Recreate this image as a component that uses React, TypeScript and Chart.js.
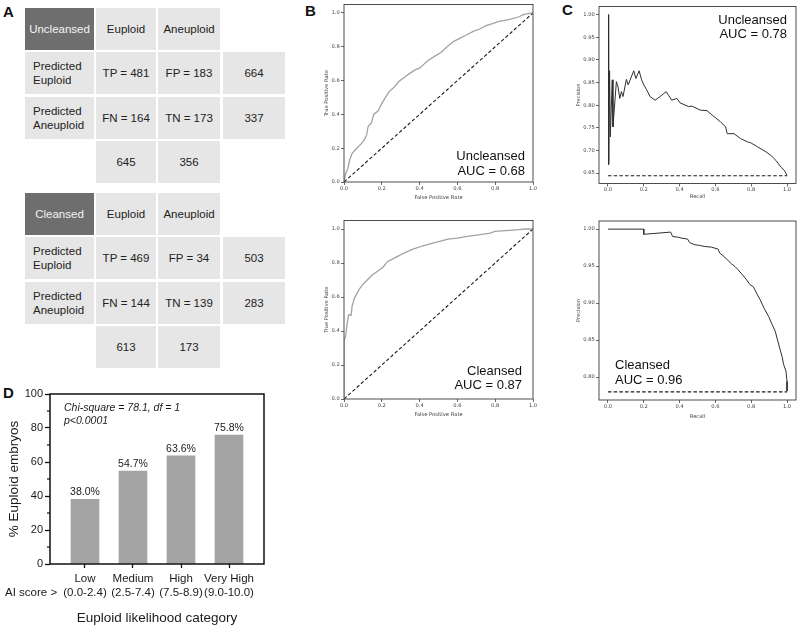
import React, { useEffect, useRef } from 'react';
import { Chart, registerables } from 'chart.js';

Chart.register(...registerables);

const SANS = "'Liberation Sans', Arial, sans-serif";
const MPL = "'DejaVu Sans', sans-serif";

// ---------- Panel A: confusion matrices ----------
const matrixColHeaders = ['Euploid', 'Aneuploid'];
const matrixRowHeaders = [['Predicted', 'Euploid'], ['Predicted', 'Aneuploid']];
const matrixCellCodes = [['TP', 'FP'], ['FN', 'TN']];
const uncleansedCounts = [[481, 183], [164, 173]];
const uncleansedRowTotals = [664, 337];
const uncleansedColTotals = [645, 356];
const cleansedCounts = [[469, 34], [144, 139]];
const cleansedRowTotals = [503, 283];
const cleansedColTotals = [613, 173];

// ---------- Panel B: ROC curves ----------
const rocUncleansedFpr = [0, 0.009, 0.02, 0.03, 0.043, 0.068, 0.094, 0.108, 0.12, 0.128, 0.145, 0.157, 0.18, 0.2, 0.222, 0.239, 0.265, 0.29, 0.325, 0.35, 0.376, 0.4, 0.419, 0.444, 0.479, 0.513, 0.547, 0.581, 0.615, 0.65, 0.684, 0.718, 0.752, 0.786, 0.82, 0.872, 0.923, 0.949, 0.974, 1.0];
const rocUncleansedTpr = [0, 0.05, 0.08, 0.13, 0.17, 0.2, 0.23, 0.25, 0.28, 0.33, 0.35, 0.4, 0.42, 0.465, 0.505, 0.535, 0.56, 0.594, 0.624, 0.644, 0.663, 0.673, 0.693, 0.719, 0.743, 0.766, 0.802, 0.832, 0.851, 0.871, 0.891, 0.905, 0.925, 0.937, 0.95, 0.96, 0.976, 0.99, 0.996, 1.0];
const rocCleansedFpr = [0, 0, 0.007, 0.012, 0.017, 0.024, 0.038, 0.043, 0.055, 0.068, 0.08, 0.097, 0.123, 0.149, 0.174, 0.209, 0.229, 0.251, 0.286, 0.32, 0.362, 0.414, 0.465, 0.516, 0.55, 0.6, 0.653, 0.721, 0.773, 0.798, 0.858, 0.927, 0.96, 1.0];
const rocCleansedTpr = [0, 0.35, 0.36, 0.4, 0.445, 0.494, 0.494, 0.547, 0.592, 0.62, 0.645, 0.67, 0.7, 0.729, 0.749, 0.778, 0.808, 0.82, 0.84, 0.86, 0.88, 0.9, 0.916, 0.93, 0.94, 0.946, 0.957, 0.967, 0.976, 0.986, 0.99, 0.996, 1.0, 1.0];
const rocChanceX = [0, 1];
const rocChanceY = [0, 1];
const rateTicks = [0, 0.2, 0.4, 0.6, 0.8, 1.0];

// ---------- Panel C: precision-recall curves ----------
const prUncleansedRecall = [0.003, 0.004, 0.009, 0.013, 0.024, 0.028, 0.047, 0.056, 0.066, 0.075, 0.084, 0.103, 0.113, 0.144, 0.156, 0.174, 0.188, 0.2, 0.216, 0.235, 0.263, 0.291, 0.325, 0.338, 0.356, 0.385, 0.403, 0.45, 0.469, 0.516, 0.553, 0.582, 0.629, 0.657, 0.666, 0.704, 0.741, 0.779, 0.797, 0.835, 0.882, 0.91, 0.938, 0.966, 0.985, 1.0];
const prUncleansedPrecision = [1.0, 0.669, 0.876, 0.73, 0.856, 0.752, 0.852, 0.841, 0.815, 0.83, 0.819, 0.857, 0.845, 0.876, 0.859, 0.876, 0.856, 0.845, 0.834, 0.819, 0.811, 0.819, 0.83, 0.822, 0.811, 0.815, 0.805, 0.797, 0.798, 0.789, 0.788, 0.778, 0.763, 0.752, 0.737, 0.737, 0.726, 0.719, 0.717, 0.708, 0.697, 0.689, 0.678, 0.663, 0.656, 0.645];
const prCleansedRecall = [0, 0.2, 0.2, 0.35, 0.361, 0.395, 0.408, 0.445, 0.455, 0.483, 0.511, 0.539, 0.577, 0.615, 0.624, 0.643, 0.665, 0.69, 0.709, 0.727, 0.752, 0.774, 0.793, 0.812, 0.835, 0.85, 0.872, 0.897, 0.915, 0.934, 0.947, 0.959, 0.972, 0.981, 0.994, 1.0, 1.0];
const prCleansedPrecision = [1.0, 1.0, 0.993, 0.996, 0.99, 0.989, 0.988, 0.9865, 0.982, 0.979, 0.978, 0.9766, 0.9757, 0.973, 0.9676, 0.964, 0.959, 0.953, 0.9495, 0.945, 0.938, 0.9315, 0.925, 0.922, 0.911, 0.9045, 0.893, 0.882, 0.872, 0.862, 0.85, 0.839, 0.828, 0.817, 0.808, 0.794, 0.781];
const prBaselineX = [0, 1];
const prUncleansedBaseline = [0.644, 0.644];
const prCleansedBaseline = [0.78, 0.78];
const recallTicks = [0, 0.2, 0.4, 0.6, 0.8, 1.0];
const prUncleansedYTicks = [0.65, 0.7, 0.75, 0.8, 0.85, 0.9, 0.95, 1.0];
const prCleansedYTicks = [0.8, 0.85, 0.9, 0.95, 1.0];

// ---------- Panel D: bar chart ----------
const categoryNames = ['Low', 'Medium', 'High', 'Very High'];
const categoryRanges = ['(0.0-2.4)', '(2.5-7.4)', '(7.5-8.9)', '(9.0-10.0)'];
const euploidPercent = [38.0, 54.7, 63.6, 75.8];
const percentTicks = [0, 20, 40, 60, 80, 100];
const percentMinorTicks = [10, 30, 50, 70, 90];
const statsLines = ['Chi-square = 78.1, df = 1', 'p<0.0001'];
const aiScoreLabel = 'AI score >';

type Geo = { left: number; top: number; width: number; height: number; yW: number; xH: number; padTop: number; padRight: number };

const zip = (xs: number[], ys: number[]) => xs.map((x, i) => ({ x, y: ys[i] }));

function ChartBox({ geo, build }: { geo: Geo; build: () => any }) {
  const ref = useRef<HTMLCanvasElement | null>(null);
  useEffect(() => {
    if (!ref.current) return;
    const chart = new Chart(ref.current, build());
    return () => chart.destroy();
  }, []);
  return (
    <canvas
      ref={ref}
      width={geo.width}
      height={geo.height}
      style={{ position: 'absolute', left: geo.left, top: geo.top, width: geo.width, height: geo.height }}
    />
  );
}

function framePlugin(color: string, width: number) {
  return {
    id: 'frame',
    afterDatasetsDraw(chart: any) {
      const { ctx, chartArea: a } = chart;
      ctx.save();
      ctx.strokeStyle = color;
      ctx.lineWidth = width;
      ctx.strokeRect(a.left, a.top, a.right - a.left, a.bottom - a.top);
      ctx.restore();
    },
  };
}

type MplParams = {
  geo: Geo;
  cx: number[]; cy: number[]; color: string; lw: number;
  rx: number[]; ry: number[];
  xMin: number; xMax: number; yMin: number; yMax: number;
  xTicks: number[]; yTicks: number[]; yDec: number;
  xTitle: string; yTitle: string; xTitlePad: number; yTitlePad: number;
};

function mplConfig(p: MplParams) {
  const f = { family: MPL, size: 5.2 };
  const tc = '#444';
  return {
    type: 'line',
    data: {
      datasets: [
        { data: zip(p.cx, p.cy), borderColor: p.color, borderWidth: p.lw, pointRadius: 0, tension: 0, fill: false },
        { data: zip(p.rx, p.ry), borderColor: '#1a1a1a', borderWidth: 1.1, borderDash: [3.5, 2.2], pointRadius: 0, tension: 0, fill: false },
      ],
    },
    options: {
      responsive: false,
      animation: false,
      devicePixelRatio: 1,
      layout: { padding: { top: p.geo.padTop, right: p.geo.padRight, left: 0, bottom: 0 } },
      plugins: { legend: { display: false }, tooltip: { enabled: false } },
      scales: {
        x: {
          type: 'linear', min: p.xMin, max: p.xMax, offset: false,
          afterBuildTicks: (s: any) => { s.ticks = p.xTicks.map((v) => ({ value: v })); },
          afterFit: (s: any) => { s.height = p.geo.xH; s.paddingLeft = 0; s.paddingRight = 0; },
          grid: { display: true, drawOnChartArea: false, drawTicks: true, tickLength: 3, tickColor: tc, tickWidth: 0.8, offset: false },
          border: { display: false },
          ticks: { font: f, color: tc, padding: 0.5, maxRotation: 0, minRotation: 0, autoSkip: false, callback: (v: any) => Number(v).toFixed(1) },
          title: { display: true, text: p.xTitle, font: f, color: tc, padding: { top: 0, bottom: p.xTitlePad } },
        },
        y: {
          type: 'linear', min: p.yMin, max: p.yMax,
          afterBuildTicks: (s: any) => { s.ticks = p.yTicks.map((v) => ({ value: v })); },
          afterFit: (s: any) => { s.width = p.geo.yW; s.paddingTop = 0; s.paddingBottom = 0; },
          grid: { display: true, drawOnChartArea: false, drawTicks: true, tickLength: 3, tickColor: tc, tickWidth: 0.8 },
          border: { display: false },
          ticks: { font: f, color: tc, padding: 1.2, autoSkip: false, callback: (v: any) => Number(v).toFixed(p.yDec) },
          title: { display: true, text: p.yTitle, font: f, color: tc, padding: { top: p.yTitlePad, bottom: 0 } },
        },
      },
    },
    plugins: [framePlugin('#3a3a3a', 0.9)],
  };
}

const geoB1: Geo = { left: 310, top: 0, width: 228, height: 205, yW: 34, xH: 23, padTop: 4.5, padRight: 5 };
const geoB2: Geo = { left: 310, top: 215, width: 228, height: 210, yW: 34, xH: 26, padTop: 5.5, padRight: 5 };
const geoC1: Geo = { left: 560, top: 0, width: 240, height: 205, yW: 39, xH: 21.5, padTop: 6.5, padRight: 4 };
const geoC2: Geo = { left: 560, top: 215, width: 240, height: 215, yW: 39, xH: 30, padTop: 6, padRight: 4 };
const geoD: Geo = { left: 0, top: 380, width: 280, height: 247, yW: 50, xH: 63, padTop: 14, padRight: 16 };

function dConfig() {
  const g = geoD;
  const extras = {
    id: 'dExtras',
    afterDatasetsDraw(chart: any) {
      const { ctx, chartArea: a, scales } = chart;
      ctx.save();
      ctx.strokeStyle = '#111';
      ctx.lineWidth = 1.5;
      ctx.strokeRect(a.left, a.top, a.right - a.left, a.bottom - a.top);
      ctx.lineWidth = 1.2;
      for (const v of percentMinorTicks) {
        const y = scales.y.getPixelForValue(v);
        ctx.beginPath();
        ctx.moveTo(a.left - 3, y);
        ctx.lineTo(a.left, y);
        ctx.stroke();
      }
      ctx.fillStyle = '#1a1a1a';
      ctx.font = `10.5px ${SANS}`;
      ctx.textAlign = 'center';
      ctx.textBaseline = 'middle';
      chart.getDatasetMeta(0).data.forEach((bar: any, i: number) => {
        ctx.fillText(euploidPercent[i].toFixed(1) + '%', bar.x, bar.y - 7);
      });
      ctx.font = `italic 10.5px ${SANS}`;
      ctx.textAlign = 'left';
      ctx.fillText(statsLines[0], a.left + 14, a.top + 14);
      ctx.fillText(statsLines[1], a.left + 14, a.top + 27);
      ctx.font = `11.5px ${SANS}`;
      ctx.fillText(aiScoreLabel, 5, a.bottom + 29);
      ctx.restore();
    },
  };
  return {
    type: 'bar',
    data: {
      datasets: [
        { data: euploidPercent.map((v, i) => ({ x: i, y: v })), backgroundColor: '#a4a4a4', borderWidth: 0, barThickness: 28 },
      ],
    },
    options: {
      responsive: false,
      animation: false,
      devicePixelRatio: 1,
      layout: { padding: { top: g.padTop, right: g.padRight, left: 0, bottom: 0 } },
      plugins: { legend: { display: false }, tooltip: { enabled: false } },
      scales: {
        x: {
          type: 'linear', min: -0.729, max: 3.729, offset: false,
          afterBuildTicks: (s: any) => { s.ticks = categoryNames.map((_, i) => ({ value: i })); },
          afterFit: (s: any) => { s.height = g.xH; s.paddingLeft = 0; s.paddingRight = 0; },
          grid: { display: true, drawOnChartArea: false, drawTicks: true, tickLength: 4, tickColor: '#111', tickWidth: 1.3, offset: false },
          border: { display: false },
          ticks: {
            font: { family: SANS, size: 11.5, lineHeight: 1.2 }, color: '#1a1a1a', padding: 4.1, maxRotation: 0, minRotation: 0, autoSkip: false,
            callback: (v: any) => [categoryNames[Number(v)], categoryRanges[Number(v)]],
          },
          title: { display: true, text: 'Euploid likelihood category', font: { family: SANS, size: 13.5 }, color: '#1a1a1a', padding: { top: 0, bottom: 0.9 } },
        },
        y: {
          type: 'linear', min: 0, max: 100,
          afterBuildTicks: (s: any) => { s.ticks = percentTicks.map((v) => ({ value: v })); },
          afterFit: (s: any) => { s.width = g.yW; s.paddingTop = 0; s.paddingBottom = 0; },
          grid: { display: true, drawOnChartArea: false, drawTicks: true, tickLength: 5, tickColor: '#111', tickWidth: 1.3 },
          border: { display: false },
          ticks: { font: { family: SANS, size: 11 }, color: '#1a1a1a', padding: 2, autoSkip: false },
          title: { display: true, text: '% Euploid embryos', font: { family: SANS, size: 13.5 }, color: '#1a1a1a', padding: { top: 6.4, bottom: 0 } },
        },
      },
    },
    plugins: [extras],
  };
}

const colLeft = [25, 96, 158, 223];
const colWidth = [69, 60, 62, 62];
const ROW_STEP = 44.3;
const ROW_H = 42;
const LIGHT = '#e6e6e6';
const DARK = '#6e6e6e';

function Cell({ top, col, bg, color, align, children }: any) {
  return (
    <div
      style={{
        position: 'absolute', left: colLeft[col], top, width: colWidth[col], height: ROW_H, background: bg,
        display: 'flex', flexDirection: 'column', justifyContent: 'center',
        alignItems: align === 'left' ? 'flex-start' : 'center', paddingLeft: align === 'left' ? 8 : 0,
        boxSizing: 'border-box', color, fontFamily: SANS, fontSize: 11.5, lineHeight: '14px',
      }}
    >
      {children}
    </div>
  );
}

function Matrix({ top, title, counts, rowTotals, colTotals }: { top: number; title: string; counts: number[][]; rowTotals: number[]; colTotals: number[] }) {
  const rt = (r: number) => top + r * ROW_STEP;
  return (
    <>
      <Cell top={rt(0)} col={0} bg={DARK} color="#f4f4f4">{title}</Cell>
      {matrixColHeaders.map((h, c) => (
        <Cell key={'h' + c} top={rt(0)} col={c + 1} bg={LIGHT} color="#222">{h}</Cell>
      ))}
      {matrixRowHeaders.map((lines, r) => (
        <React.Fragment key={'r' + r}>
          <Cell top={rt(r + 1)} col={0} bg={LIGHT} color="#222" align="left">
            {lines.map((l, i) => <div key={i}>{l}</div>)}
          </Cell>
          {counts[r].map((n, c) => (
            <Cell key={'c' + c} top={rt(r + 1)} col={c + 1} bg={LIGHT} color="#222">{`${matrixCellCodes[r][c]} = ${n}`}</Cell>
          ))}
          <Cell top={rt(r + 1)} col={3} bg={LIGHT} color="#222">{rowTotals[r]}</Cell>
        </React.Fragment>
      ))}
      {colTotals.map((n, c) => (
        <Cell key={'t' + c} top={rt(3)} col={c + 1} bg={LIGHT} color="#222">{n}</Cell>
      ))}
    </>
  );
}

function Letter({ text, left, top }: { text: string; left: number; top: number }) {
  return (
    <div style={{ position: 'absolute', left, top, fontFamily: SANS, fontWeight: 'bold', fontSize: 15, lineHeight: '15px', color: '#111' }}>{text}</div>
  );
}

function Annot({ lines, centers, anchor, align }: { lines: string[]; centers: number[]; anchor: number; align: 'left' | 'right' }) {
  return (
    <>
      {lines.map((l, i) => (
        <div
          key={i}
          style={{
            position: 'absolute', top: centers[i] - 7.5, height: 15, lineHeight: '15px', fontFamily: SANS, fontSize: 13, color: '#111',
            left: align === 'left' ? anchor : anchor - 160, width: 160, textAlign: align, whiteSpace: 'nowrap',
          }}
        >
          {l}
        </div>
      ))}
    </>
  );
}

export default function App() {
  return (
    <div style={{ position: 'absolute', left: 0, top: 0, width: 800, height: 627, background: '#fff', overflow: 'hidden' }}>
      <Letter text="A" left={3} top={3.7} />
      <Letter text="B" left={305} top={2.7} />
      <Letter text="C" left={562} top={2.2} />
      <Letter text="D" left={3} top={385} />

      <Matrix top={8} title="Uncleansed" counts={uncleansedCounts} rowTotals={uncleansedRowTotals} colTotals={uncleansedColTotals} />
      <Matrix top={193} title="Cleansed" counts={cleansedCounts} rowTotals={cleansedRowTotals} colTotals={cleansedColTotals} />

      <ChartBox
        geo={geoB1}
        build={() => mplConfig({
          geo: geoB1, cx: rocUncleansedFpr, cy: rocUncleansedTpr, color: '#a2a2a2', lw: 1.3, rx: rocChanceX, ry: rocChanceY,
          xMin: 0, xMax: 1, yMin: 0, yMax: 1.05, xTicks: rateTicks, yTicks: rateTicks, yDec: 1,
          xTitle: 'False Positive Rate', yTitle: 'True Positive Rate', xTitlePad: 3.9, yTitlePad: 13.9,
        })}
      />
      <ChartBox
        geo={geoB2}
        build={() => mplConfig({
          geo: geoB2, cx: rocCleansedFpr, cy: rocCleansedTpr, color: '#a2a2a2', lw: 1.3, rx: rocChanceX, ry: rocChanceY,
          xMin: 0, xMax: 1, yMin: 0, yMax: 1.05, xTicks: rateTicks, yTicks: rateTicks, yDec: 1,
          xTitle: 'False Positive Rate', yTitle: 'True Positive Rate', xTitlePad: 6.9, yTitlePad: 13.9,
        })}
      />
      <ChartBox
        geo={geoC1}
        build={() => mplConfig({
          geo: geoC1, cx: prUncleansedRecall, cy: prUncleansedPrecision, color: '#2e2e2e', lw: 1, rx: prBaselineX, ry: prUncleansedBaseline,
          xMin: -0.05, xMax: 1.05, yMin: 0.627, yMax: 1.018, xTicks: recallTicks, yTicks: prUncleansedYTicks, yDec: 2,
          xTitle: 'Recall', yTitle: 'Precision', xTitlePad: 4.9, yTitlePad: 15.9,
        })}
      />
      <ChartBox
        geo={geoC2}
        build={() => mplConfig({
          geo: geoC2, cx: prCleansedRecall, cy: prCleansedPrecision, color: '#2e2e2e', lw: 1, rx: prBaselineX, ry: prCleansedBaseline,
          xMin: -0.05, xMax: 1.05, yMin: 0.769, yMax: 1.011, xTicks: recallTicks, yTicks: prCleansedYTicks, yDec: 2,
          xTitle: 'Recall', yTitle: 'Precision', xTitlePad: 9.9, yTitlePad: 15.9,
        })}
      />
      <ChartBox geo={geoD} build={dConfig} />

      <Annot lines={['Uncleansed', 'AUC = 0.68']} centers={[155, 170]} anchor={525} align="right" />
      <Annot lines={['Cleansed', 'AUC = 0.87']} centers={[370, 384]} anchor={522} align="right" />
      <Annot lines={['Uncleansed', 'AUC = 0.78']} centers={[19.5, 33.5]} anchor={787} align="right" />
      <Annot lines={['Cleansed', 'AUC = 0.96']} centers={[364, 379]} anchor={615} align="left" />
    </div>
  );
}
